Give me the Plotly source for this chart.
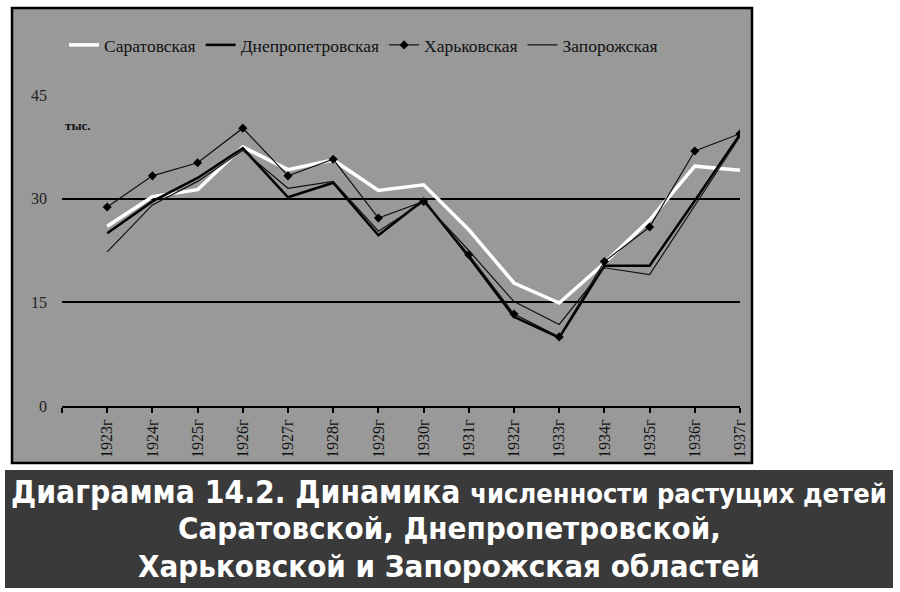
import plotly.graph_objects as go

years = list(range(1923, 1938))
year_labels = [f"{y}г" for y in years]

saratov = [26.0, 30.3, 31.3, 37.5, 34.2, 35.6, 31.2, 32.0, 25.5, 17.8, 14.9, 20.7, 26.9, 34.7, 34.1]
dnepr = [25.0, 29.6, 33.0, 37.3, 30.2, 32.3, 24.7, 29.8, 21.6, 12.9, 9.9, 20.3, 20.3, 29.7, 39.3]
kharkov = [28.8, 33.3, 35.2, 40.2, 33.3, 35.7, 27.2, 29.6, 21.9, 13.3, 10.0, 20.9, 25.9, 36.9, 39.4]
zapor = [22.3, 29.1, 32.5, 37.0, 31.5, 32.5, 25.3, 29.5, 22.5, 15.1, 11.8, 20.0, 19.0, 29.0, 39.0]

y_ticks = [0, 15, 30, 45]

W, H = 900, 592
L, R, T, B = 62, 740, 95, 406  # plot area pixels
pw, ph = R - L, B - T

def px(x):
    return (x - L) / pw

def py(y):
    return (B - y) / ph

SERIF = "Liberation Serif, Times New Roman, serif"
GRAY = "#999999"

fig = go.Figure()
fig.add_trace(go.Scatter(x=years, y=saratov, name="Саратовская", mode="lines",
                         line=dict(color="white", width=3.5)))
fig.add_trace(go.Scatter(x=years, y=dnepr, name="Днепропетровская", mode="lines",
                         line=dict(color="black", width=2.5)))
fig.add_trace(go.Scatter(x=years, y=kharkov, name="Харьковская", mode="lines+markers",
                         line=dict(color="#111111", width=1.2),
                         marker=dict(symbol="diamond", size=7, color="black")))
fig.add_trace(go.Scatter(x=years, y=zapor, name="Запорожская", mode="lines",
                         line=dict(color="#111111", width=1.2)))

shapes = [
    dict(type="rect", xref="paper", yref="paper", x0=px(12), x1=px(752), y0=py(463), y1=py(8),
         fillcolor=GRAY, line=dict(color="black", width=2.5), layer="below"),
    dict(type="rect", xref="paper", yref="paper", x0=px(5), x1=px(893), y0=py(588), y1=py(470),
         fillcolor="#3a3a3a", line=dict(width=0), layer="below"),
]

cap_font = "DejaVu Sans Condensed, DejaVu Sans, sans-serif"
annotations = [
    dict(text="тыс.", xref="paper", yref="paper", x=px(63), y=py(125), xanchor="left", yanchor="middle",
         showarrow=False, font=dict(family=SERIF, size=13, color="#111", weight="bold")),
    dict(text="Диаграмма 14.2. Динамика <span style='font-size:27px'>численности растущих детей</span>",
         xref="paper", yref="paper", x=px(449), y=py(492), xanchor="center", yanchor="middle",
         showarrow=False, font=dict(family=cap_font, size=31.5, color="white", weight="bold")),
    dict(text="Саратовской, Днепропетровской,",
         xref="paper", yref="paper", x=px(449), y=py(528), xanchor="center", yanchor="middle",
         showarrow=False, font=dict(family=cap_font, size=31, color="white", weight="bold")),
    dict(text="Харьковской и Запорожская областей",
         xref="paper", yref="paper", x=px(449), y=py(566), xanchor="center", yanchor="middle",
         showarrow=False, font=dict(family=cap_font, size=31, color="white", weight="bold")),
]

fig.update_layout(
    width=W, height=H,
    margin=dict(l=L, r=W - R, t=T, b=H - B, pad=0),
    paper_bgcolor="white", plot_bgcolor=GRAY,
    shapes=shapes, annotations=annotations,
    showlegend=True,
    legend=dict(orientation="h", x=px(64), y=py(45), xanchor="left", yanchor="middle",
                bgcolor="rgba(0,0,0,0)", font=dict(family=SERIF, size=17.5, color="#111"),
                itemwidth=30, tracegroupgap=0),
    xaxis=dict(range=[1922, 1937], tickvals=[1922] + years, ticktext=[""] + year_labels,
               tickangle=-90, showgrid=False, zeroline=False, showline=True,
               linecolor="black", linewidth=2, ticks="outside", ticklen=5, tickcolor="black",
               tickwidth=1.5, tickfont=dict(family=SERIF, size=16, color="#111")),
    yaxis=dict(range=[0, 45], tickvals=y_ticks, showgrid=True, gridcolor="black", gridwidth=1.5,
               zeroline=False, showline=False, ticks="", ticklabelstandoff=14,
               tickfont=dict(family=SERIF, size=16, color="#222")),
)

fig.write_html("out.html")
